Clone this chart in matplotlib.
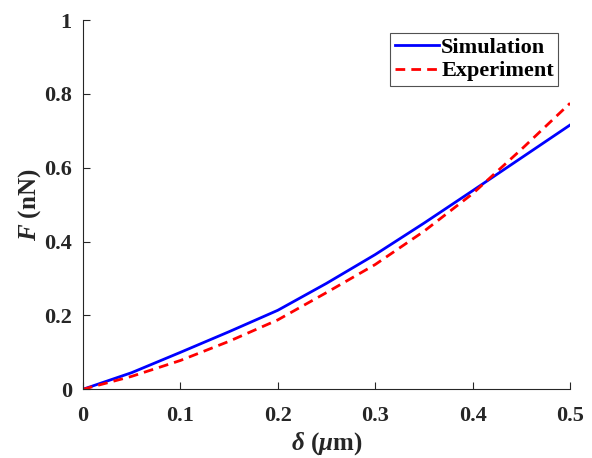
import matplotlib
matplotlib.use("Agg")
import matplotlib.pyplot as plt

# Indentation depth (um) and force (nN)
delta_sim = [0, 0.05, 0.10, 0.15, 0.20, 0.25, 0.30, 0.35, 0.40, 0.45, 0.50]
force_sim = [0, 0.045, 0.100, 0.156, 0.214, 0.287, 0.365, 0.450, 0.538, 0.627, 0.716]

delta_exp = [0, 0.05, 0.10, 0.15, 0.20, 0.25, 0.30, 0.35, 0.40, 0.45, 0.50]
force_exp = [0, 0.035, 0.078, 0.130, 0.188, 0.262, 0.338, 0.428, 0.530, 0.650, 0.775]

x_ticks = [0, 0.1, 0.2, 0.3, 0.4, 0.5]
y_ticks = [0, 0.2, 0.4, 0.6, 0.8, 1]

plt.rcParams["font.family"] = "Liberation Serif"
plt.rcParams["font.weight"] = "bold"
plt.rcParams["mathtext.fontset"] = "custom"
plt.rcParams["mathtext.it"] = "Liberation Serif:italic:bold"
plt.rcParams["mathtext.rm"] = "Liberation Serif:bold"
plt.rcParams["mathtext.bf"] = "Liberation Serif:bold"

fig = plt.figure(figsize=(5.92, 4.58), dpi=100)
ax = fig.add_axes([0.140, 0.150, 0.823, 0.806])

ax.plot(delta_sim, force_sim, color="#0000ff", lw=2.0, label="Simulation")
ax.plot(delta_exp, force_exp, color="#ff0000", lw=2.0, ls=(0, (3.5, 2.2)),
        label="Experiment")

ax.set_xlim(0, 0.5)
ax.set_ylim(0, 1)
ax.set_xticks(x_ticks)
ax.set_yticks(y_ticks)
ax.set_xticklabels([f"{v:g}" for v in x_ticks])
ax.set_yticklabels([f"{v:g}" for v in y_ticks])

for side in ("top", "right"):
    ax.spines[side].set_visible(False)
for side in ("left", "bottom"):
    ax.spines[side].set_color("#262626")
    ax.spines[side].set_linewidth(0.8)

ax.tick_params(direction="in", length=5, width=0.8, color="#262626",
               labelsize=16, labelcolor="#262626")
ax.tick_params(axis="x", pad=12)
ax.tick_params(axis="y", pad=8)

ax.set_xlabel(r"$\delta$ ($\mu$m)", fontsize=18, fontweight="bold",
              labelpad=3, color="#262626")
ax.set_ylabel(r"$F$ (nN)", fontsize=18, fontweight="bold",
              labelpad=1, color="#262626")

leg = ax.legend(loc="upper right", bbox_to_anchor=(0.976, 0.965),
                fontsize=16, frameon=True, fancybox=False,
                handlelength=2.0, handletextpad=0.1, borderpad=0.2,
                labelspacing=0.12, borderaxespad=0)
leg.get_frame().set_edgecolor("#262626")
leg.get_frame().set_linewidth(0.8)

fig.savefig("out.png", dpi=100)
